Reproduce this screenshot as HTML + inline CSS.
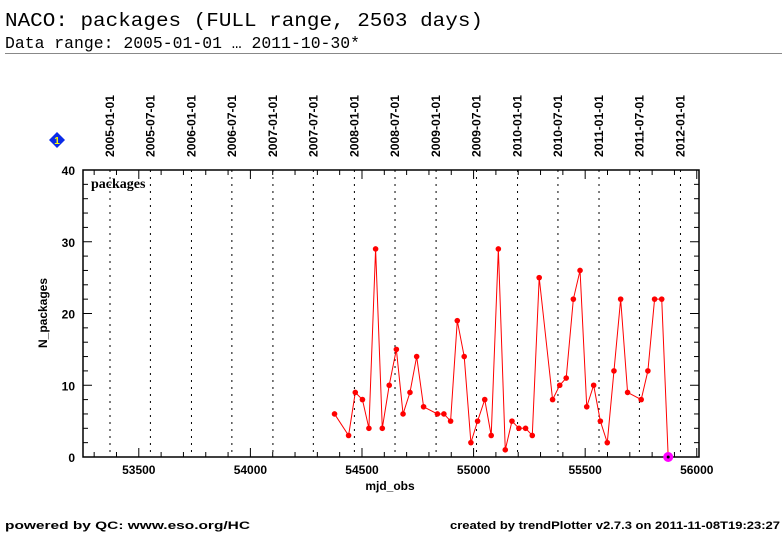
<!DOCTYPE html>
<html><head><meta charset="utf-8"><style>
body{margin:0;background:#fff;width:782px;height:542px;overflow:hidden}
svg text{font-family:"Liberation Sans",sans-serif}
</style></head><body>
<svg id="chart" width="782" height="542" xmlns="http://www.w3.org/2000/svg">
<text x="5" y="26" style="font-family:'Liberation Mono',monospace" font-size="19.5" textLength="478" lengthAdjust="spacingAndGlyphs">NACO: packages (FULL range, 2503 days)</text>
<text x="5" y="48" style="font-family:'Liberation Mono',monospace" font-size="16.3" textLength="355" lengthAdjust="spacingAndGlyphs">Data range: 2005-01-01 … 2011-10-30*</text>
<line x1="5" y1="53.5" x2="782" y2="53.5" stroke="#888" stroke-width="1"/>
<g><polygon points="57,132 65,140 57,148 49,140" fill="#0a2be8"/><text x="57" y="144" font-size="10" font-weight="bold" fill="#ff0" text-anchor="middle">1</text></g>
<g id="grid"></g><g id="axes"></g><g id="series"></g>
<text x="91" y="188" style="font-family:'Liberation Serif',serif" font-size="14" font-weight="bold">packages</text>
<text transform="translate(47,313) rotate(-90)" font-size="12" font-weight="bold" text-anchor="middle">N_packages</text>
<text x="390" y="490" font-size="12" font-weight="bold" text-anchor="middle">mjd_obs</text>
<text x="5" y="529" font-size="11" font-weight="bold" textLength="245" lengthAdjust="spacingAndGlyphs">powered by QC: www.eso.org/HC</text>
<text x="450" y="529" font-size="11" font-weight="bold" textLength="330" lengthAdjust="spacingAndGlyphs">created by trendPlotter v2.7.3 on 2011-11-08T19:23:27</text>
</svg>
<script>
const mjd=[54377,54440,54470,54502,54531,54561,54591,54622,54654,54684,54715,54745,54776,54838,54867,54897,54927,54958,54988,55018,55050,55079,55111,55142,55172,55203,55233,55263,55294,55354,55386,55415,55447,55477,55507,55538,55568,55599,55629,55659,55690,55751,55781,55811,55843];
const packages=[6,3,9,8,4,29,4,10,15,6,9,14,7,6,6,5,19,14,2,5,8,3,29,1,5,4,4,3,25,8,10,11,22,26,7,10,5,2,12,22,9,8,12,22,22];
const lastMjd=[55872];
const lastVal=[0];
const xTicks=[53500,54000,54500,55000,55500,56000];
const yTicks=[0,10,20,30,40];
const dateLabels=["2005-01-01","2005-07-01","2006-01-01","2006-07-01","2007-01-01","2007-07-01","2008-01-01","2008-07-01","2009-01-01","2009-07-01","2010-01-01","2010-07-01","2011-01-01","2011-07-01","2012-01-01"];
const dateMjd=[53371,53552,53736,53917,54101,54282,54466,54648,54832,55013,55197,55378,55562,55743,55927];
const L=83,R=699,T=170,B=457,X0=53250,X1=56010,Y0=0,Y1=40;
const x=v=>L+(v-X0)*(R-L)/(X1-X0);
const y=v=>B-(v-Y0)*(B-T)/(Y1-Y0);
const NS="http://www.w3.org/2000/svg";
function mk(tag,attrs,parent){const e=document.createElementNS(NS,tag);for(const k in attrs)e.setAttribute(k,attrs[k]);document.getElementById(parent).appendChild(e);return e;}
dateMjd.forEach((d,i)=>{
  const ln=mk('line',{x1:x(d),x2:x(d),y1:T,y2:B,stroke:'#000','stroke-width':1,'stroke-dasharray':'2,5'},'grid');
  
  
  const t=mk('text',{transform:`translate(${x(d)+4},157) rotate(-90)`,'font-size':11.5,'font-weight':'bold',textLength:62,lengthAdjust:'spacingAndGlyphs'},'grid');
  t.textContent=dateLabels[i];
  
  
});
const fr=mk('rect',{x:L,y:T,width:R-L,height:B-T,fill:'none',stroke:'#000','stroke-width':1.5},'axes');


for(let v=53300;v<=56000;v+=100){const big=v%500===0,len=big?9:5;
  mk('line',{x1:x(v),x2:x(v),y1:B,y2:B-len,stroke:'#000'},'axes');
  mk('line',{x1:x(v),x2:x(v),y1:T,y2:T+len,stroke:'#000'},'axes');}
for(let v=0;v<=40;v+=2){const big=v%10===0,len=big?9:5;
  mk('line',{x1:L,x2:L+len,y1:y(v),y2:y(v),stroke:'#000'},'axes');
  mk('line',{x1:R,x2:R-len,y1:y(v),y2:y(v),stroke:'#000'},'axes');}
xTicks.forEach(v=>{const t=mk('text',{x:x(v),y:B+17,'font-size':12,'font-weight':'bold','text-anchor':'middle'},'axes');t.textContent=v;
  
  });
yTicks.forEach(v=>{const t=mk('text',{x:L-8,y:y(v)+5,'font-size':12,'font-weight':'bold','text-anchor':'end'},'axes');t.textContent=v;
  
  });
const allX=mjd.concat(lastMjd),allY=packages.concat(lastVal);
const pl=mk('polyline',{points:allX.map((d,i)=>x(d)+','+y(allY[i])).join(' '),fill:'none',stroke:'#f00','stroke-width':1},'series');


mjd.forEach((d,i)=>{const c=mk('circle',{cx:x(d),cy:y(packages[i]),r:2.8,fill:'#f00'},'series');
  
  });
lastMjd.forEach((d,i)=>{const c=mk('circle',{cx:x(d),cy:y(lastVal[i]),r:5,fill:'#f0f'},'series');
  
  
  mk('circle',{cx:x(d),cy:y(lastVal[i]),r:1.5,fill:'#000'},'series');});
</script>
</body></html>
